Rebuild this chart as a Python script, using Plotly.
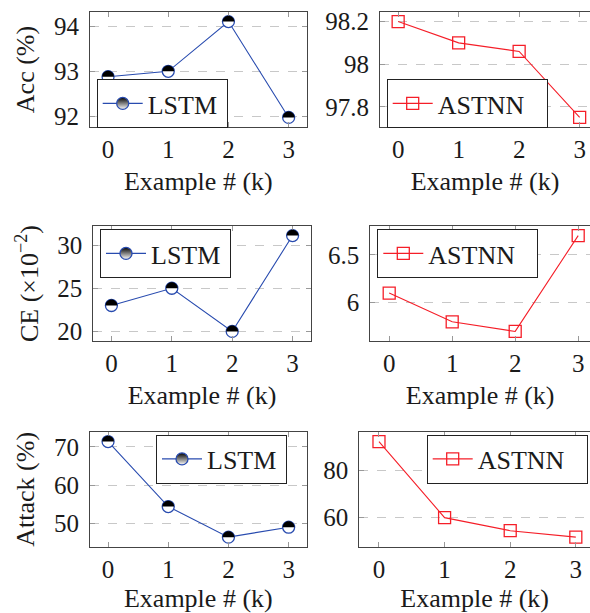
import plotly.graph_objects as go

# ---- data ----
examples = [0, 1, 2, 3]
x_ticks = [0, 1, 2, 3]

acc_lstm = [92.88, 93.0, 94.1, 91.98]
acc_astnn = [98.2, 98.1, 98.06, 97.75]
ce_lstm = [23.0, 25.0, 20.0, 31.1]
ce_astnn = [6.1, 5.8, 5.7, 6.7]
atk_lstm = [71.4, 54.4, 46.4, 49.0]
atk_astnn = [92.0, 60.0, 54.5, 51.8]

acc_lstm_ticks = [92, 93, 94]
acc_astnn_ticks = [97.8, 98, 98.2]
ce_lstm_ticks = [20, 25, 30]
ce_astnn_ticks = [6, 6.5]
atk_lstm_ticks = [50, 60, 70]
atk_astnn_ticks = [60, 80]

# ---- style / geometry ----
W, H = 590, 613
BLUE = "rgb(40,75,175)"
RED = "rgb(245,30,40)"
FRAME = "#444444"
TICKC = "#999999"
GRIDC = "#c8c8c8"
TXT = "#1a1a1a"
FONT = '"Liberation Serif", "Times New Roman", "DejaVu Serif", serif'
TICK_SIZE = 25
TITLE_SIZE = 26
LEG_SIZE = 26

# (left, right_visible, full_right, top, bottom) in pixels
panels = [
    dict(series=acc_lstm, ticks=acc_lstm_ticks, name="LSTM", kind="lstm",
         box=(90, 306.7, 306.7, 12, 127), ytitle="Acc (%)", leg=(96.7, 79)),
    dict(series=acc_astnn, ticks=acc_astnn_ticks, name="ASTNN", kind="astnn",
         box=(380, 590, 597.8, 12, 127), ytitle=None, leg=(386.7, 79)),
    dict(series=ce_lstm, ticks=ce_lstm_ticks, name="LSTM", kind="lstm",
         box=(93.3, 310.7, 310.7, 226, 341), ytitle="CE (×10<sup>−2</sup>)", leg=(100, 229)),
    dict(series=ce_astnn, ticks=ce_astnn_ticks, name="ASTNN", kind="astnn",
         box=(370.3, 590, 597.1, 226, 341), ytitle=None, leg=(377.3, 229)),
    dict(series=atk_lstm, ticks=atk_lstm_ticks, name="LSTM", kind="lstm",
         box=(90, 306.7, 306.7, 432, 546.7), ytitle="Attack (%)", leg=(156, 434.5)),
    dict(series=atk_astnn, ticks=atk_astnn_ticks, name="ASTNN", kind="astnn",
         box=(359.3, 590, 595.5, 432, 546.7), ytitle=None, leg=(426.7, 434.5)),
]

fig = go.Figure()
layout = dict(
    width=W, height=H,
    margin=dict(l=0, r=0, t=0, b=0),
    paper_bgcolor="white", plot_bgcolor="white",
    font=dict(family=FONT, color=TXT, size=TICK_SIZE),
    hovermode=False,
)
shapes = []

# upper half-disc path (pixels, y up), used for the half-filled circle markers
R = 5.9
K = 0.5523 * R
HALF_DISC = (f"M {-R},0 C {-R},{K} {-K},{R} 0,{R} "
             f"C {K},{R} {R},{K} {R},0 Z")

for i, p in enumerate(panels):
    n = "" if i == 0 else str(i + 1)
    left, rvis, rfull, top, bot = p["box"]
    xmin, xmax = min(examples), max(examples)
    ex = 0.1 * (xmax - xmin)
    full_lo, full_hi = xmin - ex, xmax + ex
    x_hi = full_lo + (full_hi - full_lo) * (rvis - left) / (rfull - left)
    ymin, ymax = min(p["series"]), max(p["series"])
    ey = 0.1 * (ymax - ymin)
    is_left = p["kind"] == "lstm"

    if is_left:
        marker = dict(symbol="circle", size=12, color="white",
                      line=dict(color=BLUE, width=1.3))
        color = BLUE
    else:
        marker = dict(symbol="square-open", size=12, color=RED,
                      line=dict(color=RED, width=1.3))
        color = RED

    # data trace (not in legend)
    fig.add_trace(go.Scatter(
        x=examples, y=p["series"], mode="lines+markers", name=p["name"],
        line=dict(color=color, width=1.1), marker=marker,
        xaxis="x" + n, yaxis="y" + n, showlegend=False,
    ))
    # legend entry
    leg_marker = dict(marker)
    if is_left:
        leg_marker = dict(symbol="circle", size=12, color="black",
                          gradient=dict(type="vertical", color="white"),
                          line=dict(color=BLUE, width=1.3))
    fig.add_trace(go.Scatter(
        x=[None], y=[None], mode="lines+markers", name=p["name"],
        line=dict(color=color, width=1.1), marker=leg_marker,
        xaxis="x" + n, yaxis="y" + n, legend="legend" + n, showlegend=True,
    ))

    if is_left:
        for xv, yv in zip(examples, p["series"]):
            shapes.append(dict(
                type="path", path=HALF_DISC,
                xref="x" + n, yref="y" + n,
                xsizemode="pixel", ysizemode="pixel",
                xanchor=xv, yanchor=yv,
                fillcolor="black", line=dict(width=0), layer="above",
            ))

    layout["xaxis" + n] = dict(
        domain=[left / W, rvis / W], anchor="y" + n,
        range=[full_lo, x_hi], tickvals=x_ticks, ticktext=[str(t) for t in x_ticks],
        showgrid=False, zeroline=False,
        showline=True, linecolor=FRAME, linewidth=1, mirror="ticks",
        ticks="inside", ticklen=5, tickcolor=TICKC, tickwidth=1,
        tickfont=dict(size=TICK_SIZE, family=FONT, color=TXT),
        title=dict(text="Example # (k)", font=dict(size=TITLE_SIZE, family=FONT, color=TXT), standoff=9),
        automargin=False, fixedrange=True,
    )
    layout["yaxis" + n] = dict(
        domain=[1 - bot / H, 1 - top / H], anchor="x" + n,
        range=[ymin - ey, ymax + ey],
        tickvals=p["ticks"], ticktext=["%g" % t for t in p["ticks"]],
        showgrid=True, gridcolor=GRIDC, griddash="dash", gridwidth=1,
        zeroline=False,
        showline=True, linecolor=FRAME, linewidth=1,
        mirror="ticks" if is_left else False,
        ticks="inside", ticklen=5, tickcolor=TICKC, tickwidth=1,
        ticklabelstandoff=5,
        tickfont=dict(size=TICK_SIZE, family=FONT, color=TXT),
        automargin=False, fixedrange=True,
    )
    if p["ytitle"]:
        layout["yaxis" + n]["title"] = dict(
            text=p["ytitle"], font=dict(size=TITLE_SIZE, family=FONT, color=TXT), standoff=11)

    lx, ly = p["leg"]
    layout["legend" + n] = dict(
        x=lx / W, y=1 - ly / H, xanchor="left", yanchor="top",
        xref="paper", yref="paper", orientation="h",
        entrywidth=74 if is_left else 104, entrywidthmode="pixels",
        bgcolor="white", bordercolor="#222222", borderwidth=1,
        font=dict(size=LEG_SIZE, family=FONT, color=TXT),
        itemwidth=40,
    )

layout["shapes"] = shapes
fig.update_layout(**layout)
fig.write_html("out.html", config={"displayModeBar": False, "staticPlot": True},
               post_script="document.body.style.margin='0px';")
